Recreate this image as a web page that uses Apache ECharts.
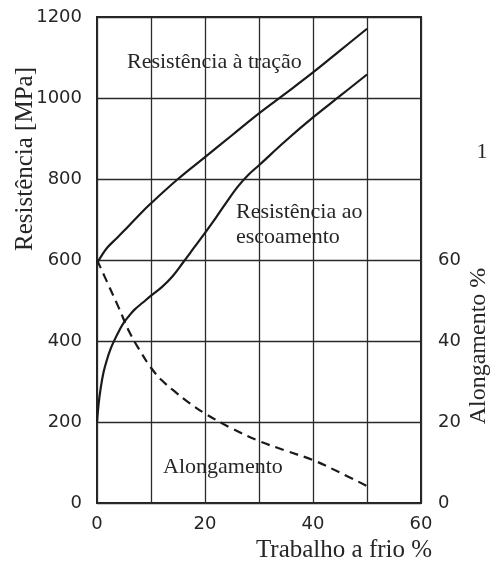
<!DOCTYPE html>
<html>
<head>
<meta charset="utf-8">
<script src="https://cdn.jsdelivr.net/npm/echarts@6/dist/echarts.min.js"></script>
<style>
  html, body { margin: 0; padding: 0; background: #fff; }
  #chart { width: 494px; height: 563px; }
</style>
</head>
<body>
<div id="chart"></div>
<script>
// Cold work (%) versus strength (MPa, left axis) and elongation (%, right axis)
const tensileWork = [0, 1, 2, 3.5, 5, 7.5, 10, 15, 20, 25, 30, 35, 40, 45, 50];
const tensileMPa  = [592, 614, 632, 652, 672, 707, 740, 800, 854, 908, 962, 1012, 1063, 1117, 1171];

const yieldWork = [0, 0.3, 0.7, 1.2, 1.8, 2.5, 3.3, 4.2, 5, 6, 7, 8.5, 10, 12, 14, 16, 18, 20, 22, 24, 26, 28, 30, 35, 40, 45, 50];
const yieldMPa  = [200, 245, 285, 322, 352, 380, 404, 428, 446, 463, 478, 495, 512, 533, 560, 595, 631, 667, 704, 743, 780, 810, 834, 895, 952, 1005, 1058];

const elongWork = [0, 2, 4, 6, 8, 10, 12, 14.7, 17, 20, 25, 30, 35, 40, 45, 50];
const elongPct  = [60, 54.2, 48.3, 42.2, 37.5, 33.4, 30.3, 27.2, 24.8, 22.1, 18.4, 15.3, 12.9, 10.6, 7.5, 4.2];

const xTicks = [0, 20, 40, 60];
const leftTicks = [0, 200, 400, 600, 800, 1000, 1200];
const rightTicks = [0, 20, 40, 60];

const pairs = (xs, ys) => xs.map((x, i) => [x, ys[i]]);

const serif = '"Liberation Serif", "Times New Roman", serif';
const sans = '"DejaVu Sans", sans-serif';
const ink = '#1a1a1a';
const textInk = '#262626';

const chart = echarts.init(document.getElementById('chart'), null, { renderer: 'canvas' });

chart.setOption({
  animation: false,
  backgroundColor: '#ffffff',
  grid: {
    left: 97, top: 17, right: 73, bottom: 60,
    show: true, borderColor: '#222', borderWidth: 2, backgroundColor: 'transparent'
  },
  xAxis: {
    type: 'value', min: 0, max: 60, interval: 10,
    axisLine: { show: false }, axisTick: { show: false },
    splitLine: { show: true, lineStyle: { color: '#2a2a2a', width: 1.3 } },
    axisLabel: {
      margin: 12, color: textInk, fontFamily: sans, fontSize: 18,
      formatter: v => xTicks.includes(v) ? String(v) : ''
    }
  },
  yAxis: [
    {
      type: 'value', min: 0, max: 1200, interval: 200,
      axisLine: { show: false }, axisTick: { show: false },
      splitLine: { show: true, lineStyle: { color: '#2a2a2a', width: 1.3 } },
      axisLabel: {
        margin: 15, color: textInk, fontFamily: sans, fontSize: 18,
        formatter: v => leftTicks.includes(v) ? String(v) : ''
      }
    },
    {
      type: 'value', min: 0, max: 120, interval: 20, position: 'right',
      axisLine: { show: false }, axisTick: { show: false }, splitLine: { show: false },
      axisLabel: {
        margin: 17, color: textInk, fontFamily: sans, fontSize: 18,
        formatter: v => rightTicks.includes(v) ? String(v) : ''
      }
    }
  ],
  series: [
    {
      name: 'Resistência à tração', type: 'line', yAxisIndex: 0,
      data: pairs(tensileWork, tensileMPa), smooth: 0.4, showSymbol: false,
      lineStyle: { color: ink, width: 2.2 }
    },
    {
      name: 'Resistência ao escoamento', type: 'line', yAxisIndex: 0,
      data: pairs(yieldWork, yieldMPa), smooth: 0.4, showSymbol: false,
      lineStyle: { color: ink, width: 2.2 }
    },
    {
      name: 'Alongamento', type: 'line', yAxisIndex: 1,
      data: pairs(elongWork, elongPct), smooth: 0.4, showSymbol: false,
      lineStyle: { color: ink, width: 2.2, type: [9, 6] }
    }
  ],
  graphic: [
    {
      type: 'text', x: 25, y: 159, rotation: Math.PI / 2,
      style: { text: 'Resistência [MPa]', font: '25px ' + serif, fill: textInk,
               textAlign: 'center', textVerticalAlign: 'middle' }
    },
    {
      type: 'text', x: 479, y: 346, rotation: Math.PI / 2,
      style: { text: 'Alongamento %', font: '24px ' + serif, fill: textInk,
               textAlign: 'center', textVerticalAlign: 'middle' }
    },
    {
      type: 'text', x: 344, y: 550,
      style: { text: 'Trabalho a frio %', font: '25px ' + serif, fill: textInk,
               textAlign: 'center', textVerticalAlign: 'middle' }
    },
    {
      type: 'text', x: 482, y: 152,
      style: { text: '1', font: '22px ' + serif, fill: textInk,
               textAlign: 'center', textVerticalAlign: 'middle' }
    },
    {
      type: 'text', x: 127, y: 62,
      style: { text: 'Resistência à tração', font: '22px ' + serif, fill: textInk,
               textAlign: 'left', textVerticalAlign: 'middle' }
    },
    {
      type: 'text', x: 236, y: 212,
      style: { text: 'Resistência ao', font: '22px ' + serif, fill: textInk,
               textAlign: 'left', textVerticalAlign: 'middle' }
    },
    {
      type: 'text', x: 236, y: 237,
      style: { text: 'escoamento', font: '22px ' + serif, fill: textInk,
               textAlign: 'left', textVerticalAlign: 'middle' }
    },
    {
      type: 'text', x: 163, y: 467,
      style: { text: 'Alongamento', font: '22px ' + serif, fill: textInk,
               textAlign: 'left', textVerticalAlign: 'middle' }
    }
  ]
});
</script>
</body>
</html>
